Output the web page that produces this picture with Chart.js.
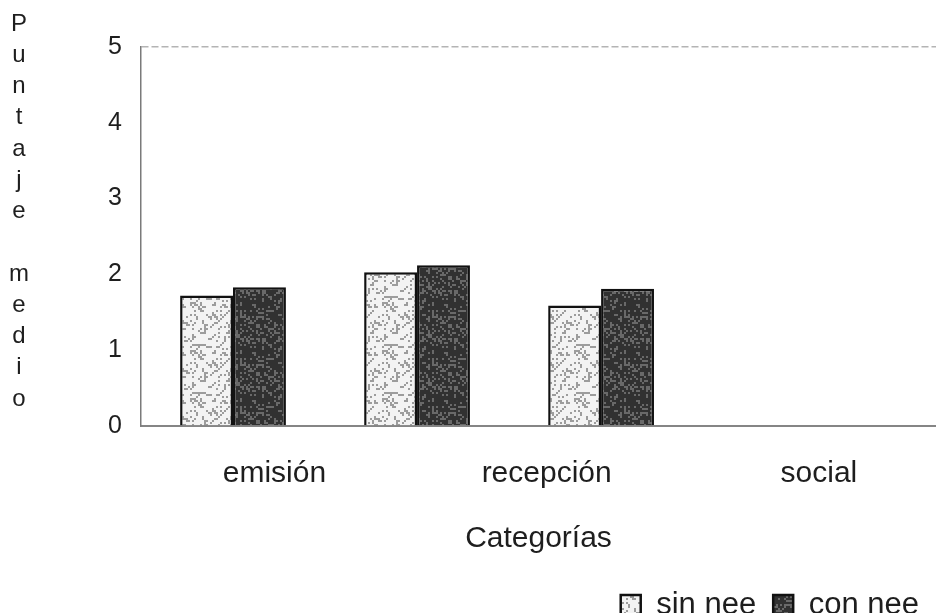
<!DOCTYPE html>
<html lang="es">
<head>
<meta charset="utf-8">
<title>Puntaje medio por categoría</title>
<script src="https://cdn.jsdelivr.net/npm/chart.js@4/dist/chart.umd.min.js"></script>
<style>
  html, body { margin: 0; padding: 0; background: #ffffff; overflow: hidden; }
  canvas { display: block; }
</style>
</head>
<body>
<canvas id="grafico" width="936" height="613"></canvas>
<script>
// Datos
const categories = ['emisión', 'recepción', 'social'];
const sinNee = [1.72, 2.03, 1.59];
const conNee = [1.83, 2.12, 1.81];
const seriesNames = ['sin nee', 'con nee'];
const yTickValues = [0, 1, 2, 3, 4, 5];
const yTitle = 'Puntaje medio';
const xTitle = 'Categorías';

const FONT = '"Liberation Sans", Arial, Helvetica, sans-serif';
const INK = '#1e1e1e';

// Textura moteada para el relleno de las barras
function speckle(base, dot, density, seed) {
  const size = 48;
  const c = document.createElement('canvas');
  c.width = c.height = size;
  const g = c.getContext('2d');
  g.fillStyle = base;
  g.fillRect(0, 0, size, size);
  g.fillStyle = dot;
  for (let y = 0; y < size; y += 2) {
    for (let x = 0; x < size; x += 2) {
      let h = Math.imul(x + 1, 73856093) ^ Math.imul(y + 1, 19349663) ^ Math.imul(seed, 83492791);
      h = Math.imul(h ^ (h >>> 13), 1274126177);
      h = (h ^ (h >>> 16)) >>> 0;
      if (h % 100 < density) g.fillRect(x, y, 2, 2);
    }
  }
  return g.createPattern(c, 'repeat');
}

const fillSin = speckle('#f3f3f3', '#9c9c9c', 22, 7);
const fillCon = speckle('#313131', '#696969', 26, 11);

const categoryTicks = (scale) => {
  scale.ticks = categories.map((_, i) => ({ value: i }));
};

// Título vertical del eje Y, una letra por renglón
const verticalTitle = {
  id: 'verticalTitle',
  afterDraw(chart) {
    const ctx = chart.ctx;
    ctx.save();
    ctx.font = '24px ' + FONT;
    ctx.fillStyle = INK;
    ctx.textAlign = 'center';
    ctx.textBaseline = 'middle';
    Array.from(yTitle).forEach((ch, i) => {
      if (ch.trim()) ctx.fillText(ch, 19, 24 + i * 31.25);
    });
    ctx.restore();
  }
};

Chart.defaults.font.family = FONT;
Chart.defaults.color = INK;

new Chart(document.getElementById('grafico'), {
  type: 'bar',
  data: {
    datasets: [
      {
        label: seriesNames[0],
        data: categories.map((c, i) => ({ x: i, y: sinNee[i] })),
        xAxisID: 'xb',
        yAxisID: 'y',
        backgroundColor: fillSin,
        borderColor: '#111111',
        borderWidth: 2.5,
        categoryPercentage: 0.575,
        barPercentage: 1
      },
      {
        label: seriesNames[1],
        data: categories.map((c, i) => ({ x: i, y: conNee[i] })),
        xAxisID: 'xb',
        yAxisID: 'y',
        backgroundColor: fillCon,
        borderColor: '#111111',
        borderWidth: 2.5,
        categoryPercentage: 0.575,
        barPercentage: 1
      }
    ]
  },
  options: {
    responsive: false,
    animation: false,
    layout: { padding: { left: 0, right: 0, top: 47, bottom: -17.5 } },
    scales: {
      xb: {
        type: 'linear',
        display: false,
        offset: false,
        grid: { offset: false },
        min: -0.5,
        max: 3.82,
        afterBuildTicks: categoryTicks
      },
      x: {
        type: 'linear',
        position: 'bottom',
        offset: false,
        min: -0.49,
        max: 2.43,
        afterBuildTicks: categoryTicks,
        grid: { display: false, drawTicks: false, offset: false },
        border: { display: true, color: '#858585', width: 2 },
        ticks: {
          autoSkip: false,
          maxRotation: 0,
          padding: 29.5,
          font: { size: 30 },
          color: INK,
          callback: (v) => categories[v]
        },
        title: {
          display: true,
          text: xTitle,
          font: { size: 30 },
          color: INK,
          padding: { top: 0, bottom: 15.5 }
        }
      },
      y: {
        type: 'linear',
        min: 0,
        max: 5,
        afterBuildTicks: (scale) => { scale.ticks = yTickValues.map(v => ({ value: v })); },
        afterFit: (scale) => { scale.width = 141; },
        grid: {
          drawTicks: false,
          lineWidth: 1.5,
          color: (ctx) => (ctx.tick && ctx.tick.value === 5 ? '#b4b4b4' : 'rgba(0,0,0,0)')
        },
        border: { display: true, color: '#7a7a7a', width: 1.5, dash: [7, 3] },
        ticks: {
          padding: 19,
          font: { size: 25 },
          color: INK
        }
      }
    },
    plugins: {
      legend: {
        position: 'bottom',
        align: 'end',
        labels: {
          font: { size: 31 },
          color: INK,
          boxWidth: 20,
          boxHeight: 20,
          padding: 17
        }
      },
      tooltip: { enabled: false },
      title: { display: false }
    }
  },
  plugins: [verticalTitle]
});
</script>
</body>
</html>
